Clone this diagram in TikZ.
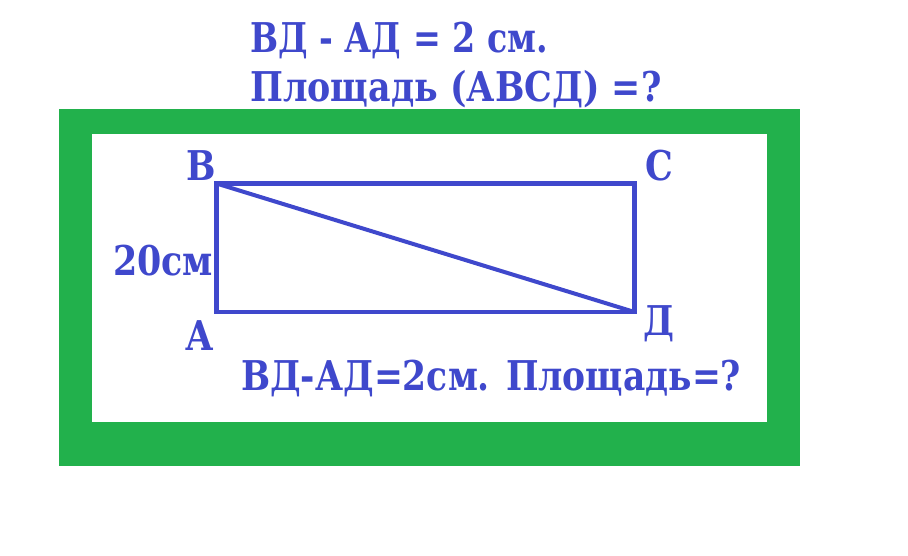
\documentclass[tikz,border=0pt]{standalone}
\usepackage{fontspec}
\setmainfont{DejaVu Serif}
\definecolor{paintblue}{RGB}{63,72,204}
\definecolor{paintgreen}{RGB}{34,177,76}
\tikzset{
    lbl/.style={anchor=base west,inner sep=0,xscale=0.85,text=paintblue,font=\bfseries\fontsize{41}{48}\selectfont},
    side/.style={draw=paintblue,line width=4.3pt}
}
\begin{document}
\begin{tikzpicture}[x=1pt,y=-1pt]
\useasboundingbox (0,0) rectangle (908,555);
%frame
\path[fill=paintgreen] (59,109) rectangle (800,466);
\path[fill=white] (92,134) rectangle (767,422);
%corners
\coordinate (A) at (216.5,312);
\coordinate (B) at (216.5,183.5);
\coordinate (C) at (634.5,183.5);
\coordinate (D) at (634.5,312);
\draw[side] (A) -- (B) -- (C) -- (D) -- cycle;
\draw[side,line width=4pt] (B) -- (D);
%labels
\node[lbl] (lblB) at (186,180){В};
\node[lbl] (lblC) at (645,180){С};
\node[lbl] (lblA) at (185,350){А};
\node[lbl] (lblD) at (643,335){Д};
\node[lbl] (side) at (113,275){20см};
\node[lbl,xscale=0.955] (top1) at (250,52){ВД - АД = 2 см.};
\node[lbl] (top2) at (250,101){Площадь (АВСД) =?};
\node[lbl,xscale=0.99] (bottom) at (241,390){ВД-АД=2см. Площадь=?};
\end{tikzpicture}
\end{document}
